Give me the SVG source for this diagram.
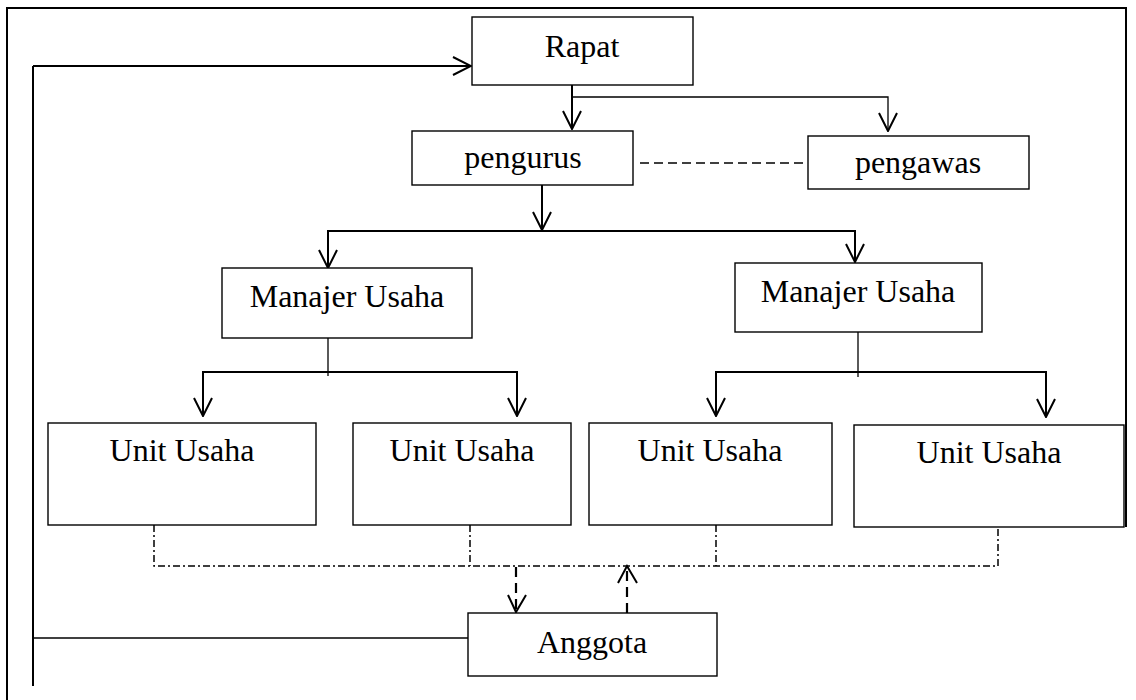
<svg xmlns="http://www.w3.org/2000/svg" width="1136" height="700" viewBox="0 0 1136 700">
  <style>
    .box { fill: #ffffff; stroke: #000000; stroke-width: 1.4; }
    .lbl { font-family: "Liberation Serif", "Times New Roman", serif; font-size: 32px; fill: #000000; text-anchor: middle; }
    .thick { fill: none; stroke: #000000; stroke-width: 2; }
    .thin { fill: none; stroke: #000000; stroke-width: 1.3; }
    .dashed { fill: none; stroke: #000000; stroke-width: 1.4; stroke-dasharray: 9 5; }
    .dashdot { fill: none; stroke: #000000; stroke-width: 1.5; stroke-dasharray: 7 3 2 3; }
    .thickdash { fill: none; stroke: #000000; stroke-width: 2.2; stroke-dasharray: 10 6; }
  </style>
  <defs>
    <marker id="arr" viewBox="0 0 20 20" refX="19" refY="10" markerWidth="20" markerHeight="20" markerUnits="userSpaceOnUse" orient="auto">
      <path d="M1,1 L19,10 L1,19" fill="none" stroke="#000000" stroke-width="2"/>
    </marker>
  </defs>
  <rect x="0" y="0" width="1136" height="700" fill="#ffffff"/>

  <g id="frame">
    <path class="thick" d="M7,700 V8 H1126 V527"/>
  </g>

  <g id="connectors">
    <line class="thin" x1="468" y1="638" x2="33" y2="638"/>
    <line class="thick" x1="33" y1="686" x2="33" y2="66"/>
    <path class="thick" d="M33,66 H471" marker-end="url(#arr)"/>
    <path class="thick" d="M572,85 V129" marker-end="url(#arr)"/>
    <path class="thin" d="M572,97 H888 V131" marker-end="url(#arr)"/>
    <line class="dashed" x1="640" y1="163" x2="808" y2="163"/>
    <path class="thick" d="M542,185 V230" marker-end="url(#arr)"/>
    <path class="thick" d="M328,268 V231 H855 V262" marker-end="url(#arr)"/>
    <line class="thick" x1="328" y1="231" x2="328" y2="268" marker-end="url(#arr)"/>
    <line class="thin" x1="328" y1="338" x2="328" y2="376"/>
    <path class="thick" d="M517,416 V372 H203 V416" marker-end="url(#arr)"/>
    <line class="thick" x1="517" y1="372" x2="517" y2="416" marker-end="url(#arr)"/>
    <line class="thin" x1="858" y1="332" x2="858" y2="377"/>
    <path class="thick" d="M716,416 V372 H1046 V417" marker-end="url(#arr)"/>
    <line class="thick" x1="716" y1="372" x2="716" y2="416" marker-end="url(#arr)"/>
    <path class="dashdot" d="M154,525 V566 H998 V527"/>
    <line class="dashdot" x1="470" y1="525" x2="470" y2="566"/>
    <line class="dashdot" x1="716" y1="525" x2="716" y2="566"/>
    <line class="thickdash" x1="516" y1="567" x2="516" y2="612"/>
    <path d="M508,595 L516,612 L526,595" fill="none" stroke="#000000" stroke-width="2"/>
    <line class="thickdash" x1="627" y1="613" x2="627" y2="567"/>
    <path d="M618,583 L627,566 L637,583" fill="none" stroke="#000000" stroke-width="2"/>
  </g>

  <g id="rapat">
    <rect class="box" x="472" y="17" width="221" height="68"/>
    <text class="lbl" x="582" y="57">Rapat</text>
  </g>
  <g id="pengurus">
    <rect class="box" x="412" y="131" width="221" height="54"/>
    <text class="lbl" x="523" y="168">pengurus</text>
  </g>
  <g id="pengawas">
    <rect class="box" x="808" y="136" width="221" height="53"/>
    <text class="lbl" x="918" y="173">pengawas</text>
  </g>
  <g id="manajer-1">
    <rect class="box" x="222" y="268" width="250" height="70"/>
    <text class="lbl" x="347" y="307">Manajer Usaha</text>
  </g>
  <g id="manajer-2">
    <rect class="box" x="735" y="263" width="247" height="69"/>
    <text class="lbl" x="858" y="302">Manajer Usaha</text>
  </g>
  <g id="unit-1">
    <rect class="box" x="48" y="423" width="268" height="102"/>
    <text class="lbl" x="182" y="461">Unit Usaha</text>
  </g>
  <g id="unit-2">
    <rect class="box" x="353" y="423" width="218" height="102"/>
    <text class="lbl" x="462" y="461">Unit Usaha</text>
  </g>
  <g id="unit-3">
    <rect class="box" x="589" y="423" width="243" height="102"/>
    <text class="lbl" x="710" y="461">Unit Usaha</text>
  </g>
  <g id="unit-4">
    <rect class="box" x="854" y="425" width="270" height="102"/>
    <text class="lbl" x="989" y="463">Unit Usaha</text>
  </g>
  <g id="anggota">
    <rect class="box" x="468" y="613" width="249" height="63"/>
    <text class="lbl" x="592" y="653">Anggota</text>
  </g>
</svg>
